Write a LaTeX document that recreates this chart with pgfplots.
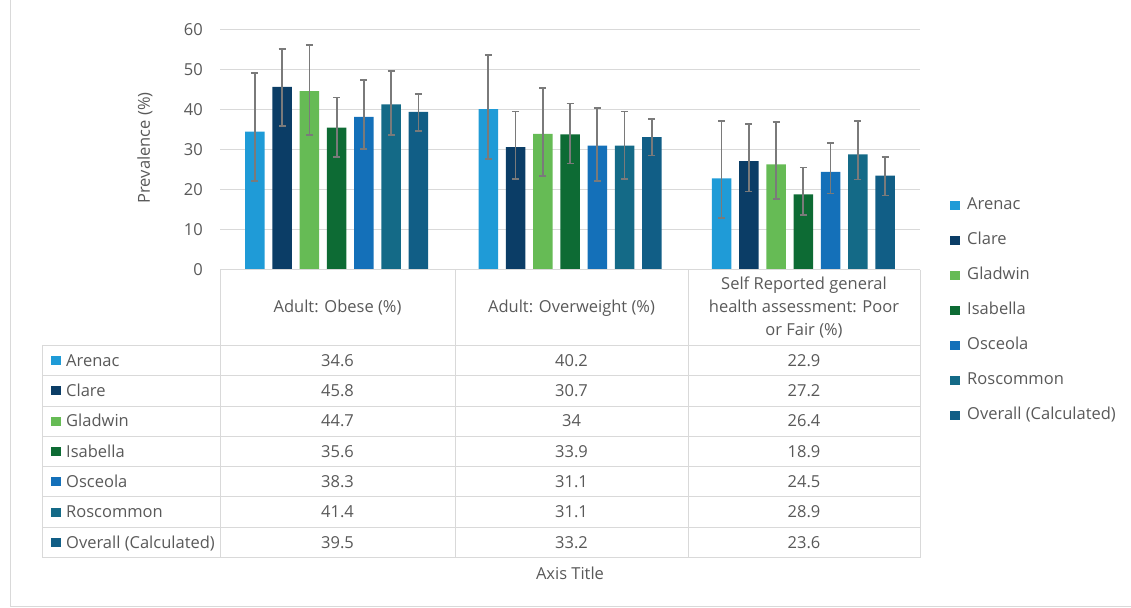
\documentclass[border=0pt]{standalone}
\usepackage{fontspec}
\setmainfont{Open Sans}
\usepackage{pgfplots}
\pgfplotsset{compat=1.18}
\definecolor{cA}{HTML}{1F9BD7}
\definecolor{cC}{HTML}{0B3D66}
\definecolor{cG}{HTML}{66BB55}
\definecolor{cI}{HTML}{0D6B34}
\definecolor{cO}{HTML}{1470B9}
\definecolor{cR}{HTML}{146A87}
\definecolor{cV}{HTML}{115E86}
\definecolor{txt}{HTML}{595959}
\definecolor{gridc}{HTML}{D9D9D9}
\definecolor{errc}{HTML}{7A7A7A}
\newcommand{\fs}{\fontsize{16.5bp}{23bp}\selectfont}
\begin{document}
\begin{tikzpicture}[x=1bp, y=1bp, font=\fs, text=txt]
\useasboundingbox (0,0) rectangle (1131,608);
\draw[gridc, line width=1bp] (10,608) -- (10,1) -- (1131,1);
\begin{axis}[
  at={(220bp,338bp)}, anchor=south west,
  scale only axis, width=700bp, height=240bp,
  xmin=-0.5, xmax=2.5, ymin=0, ymax=60,
  ytick={0,10,...,60}, xtick=\empty,
  ymajorgrids, grid style={gridc, line width=1bp},
  axis line style={draw=none}, major tick style={draw=none},
  /pgf/number format/assume math mode=true,
  yticklabel style={font=\fs, text=txt, anchor=east, inner sep=0pt, xshift=-17bp},
  ybar=7.75bp, bar width=19.5bp,
  clip=false,
  legend image code/.code={\fill[#1] (0bp,-4.5bp) rectangle (10bp,4.5bp);},
  legend style={draw=none, fill=none, font=\fs, text=txt, at={(1.0429,0.302)}, anchor=north west,
    inner sep=0pt, row sep=19.3bp, column sep=7bp,
    nodes={inner sep=0pt, text height=12bp, text depth=3.7bp}},
  legend cell align=left,
  error bars/y dir=both, error bars/y explicit,
  error bars/error bar style={errc, line width=1.8bp},
  error bars/error mark options={errc, line width=1.8bp, mark size=3.5bp, rotate=90},
]
\addplot[fill=cA, draw=none] table[x=x, y=y, y error plus=ep, y error minus=em] {
x y ep em
0 34.6 14.6 12.3
1 40.2 13.6 12.4
2 22.9 14.4 10.0
};
\addplot[fill=cC, draw=none] table[x=x, y=y, y error plus=ep, y error minus=em] {
x y ep em
0 45.8 9.5 9.8
1 30.7 8.9 7.95
2 27.2 9.3 7.6
};
\addplot[fill=cG, draw=none] table[x=x, y=y, y error plus=ep, y error minus=em] {
x y ep em
0 44.7 11.5 10.95
1 34.0 11.5 10.6
2 26.4 10.5 8.7
};
\addplot[fill=cI, draw=none] table[x=x, y=y, y error plus=ep, y error minus=em] {
x y ep em
0 35.6 7.5 7.35
1 33.9 7.7 7.3
2 18.9 6.7 5.2
};
\addplot[fill=cO, draw=none] table[x=x, y=y, y error plus=ep, y error minus=em] {
x y ep em
0 38.3 9.1 8.1
1 31.1 9.3 8.8
2 24.5 7.25 5.4
};
\addplot[fill=cR, draw=none] table[x=x, y=y, y error plus=ep, y error minus=em] {
x y ep em
0 41.4 8.4 7.7
1 31.1 8.5 8.35
2 28.9 8.4 6.3
};
\addplot[fill=cV, draw=none] table[x=x, y=y, y error plus=ep, y error minus=em] {
x y ep em
0 39.5 4.4 4.7
1 33.2 4.5 4.6
2 23.6 4.6 5.0
};
\legend{Arenac, Clare, Gladwin, Isabella, Osceola, Roscommon, Overall (Calculated)}
\end{axis}
% data table
\draw[gridc, line width=1bp] (220,338) -- (920,338);
\foreach \yy in {262.5, 232.2, 201.9, 171.6, 141.3, 111.0, 80.7, 50.4}
  \draw[gridc, line width=1bp] (42,\yy) -- (920,\yy);
\foreach \xx in {220, 455, 688, 920}
  \draw[gridc, line width=1bp] (\xx,338) -- (\xx,50.4);
\draw[gridc, line width=1bp] (42,262.5) -- (42,50.4);
% header
\node[anchor=center, inner sep=0pt] at (337.5,300) {Adult: Obese (\%)};
\node[anchor=center, inner sep=0pt] at (571.5,300) {Adult: Overweight (\%)};
\node[anchor=center, inner sep=0pt, align=center] at (804,300) {Self Reported general\\health assessment: Poor\\or Fair (\%)};
% rows
\def\rowdata{247.4/cA/Arenac/34.6/40.2/22.9, 217.0/cC/Clare/45.8/30.7/27.2, 186.8/cG/Gladwin/44.7/34/26.4, 156.5/cI/Isabella/35.6/33.9/18.9, 126.2/cO/Osceola/38.3/31.1/24.5, 95.9/cR/Roscommon/41.4/31.1/28.9, 65.6/cV/Overall (Calculated)/39.5/33.2/23.6}
\foreach \yc/\cc/\nm/\va/\vb/\vc in \rowdata {
  \fill[\cc] (51,\yc-4.5) rectangle (61,\yc+4.5);
  \node[anchor=base west, inner sep=0pt] at (66,\yc-5.8) {\nm};
  \node[anchor=base, inner sep=0pt] at (337.5,\yc-5.8) {\va};
  \node[anchor=base, inner sep=0pt] at (571.5,\yc-5.8) {\vb};
  \node[anchor=base, inner sep=0pt] at (804,\yc-5.8) {\vc};
}
\node[anchor=center, inner sep=0pt] at (570,35) {Axis Title};
\node[anchor=center, inner sep=0pt, rotate=90] at (145,460) {Prevalence (\%)};
\end{tikzpicture}
\end{document}
